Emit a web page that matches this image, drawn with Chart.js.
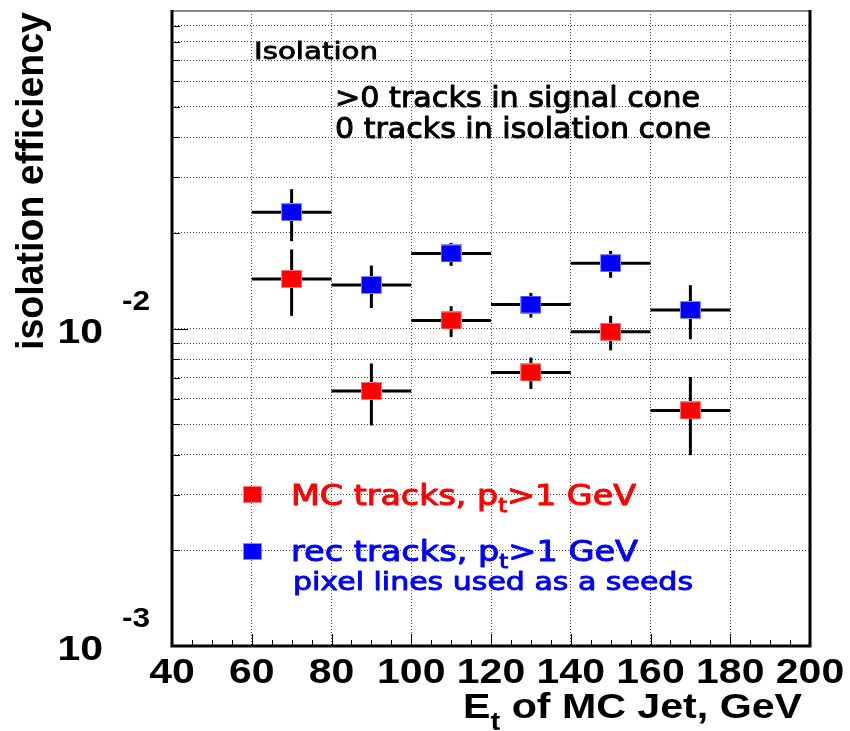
<!DOCTYPE html>
<html>
<head>
<meta charset="utf-8">
<script src="https://cdn.jsdelivr.net/npm/chart.js@4.4.1/dist/chart.umd.min.js"></script>
<style>
  html, body { margin: 0; padding: 0; background: #ffffff; }
  #wrap { width: 850px; height: 731px; }
</style>
</head>
<body>
<div id="wrap"><canvas id="effChart" width="850" height="731"></canvas></div>
<script>
// jet Et bins (centre) and half width, GeV
const etBins = [70, 90, 110, 130, 150, 170];
const binHalfWidth = 10;

// MC tracks, pt > 1 GeV
const mcEff  = [0.01433, 0.00636, 0.01060, 0.00727, 0.00976, 0.00552];
const mcHigh = [0.01774, 0.00776, 0.01176, 0.00810, 0.01096, 0.00704];
const mcLow  = [0.01096, 0.00495, 0.00939, 0.00645, 0.00853, 0.00399];

// rec tracks, pt > 1 GeV (pixel lines as seeds)
const recEff  = [0.02325, 0.01372, 0.01723, 0.01190, 0.01606, 0.01144];
const recHigh = [0.02747, 0.01579, 0.01861, 0.01295, 0.01756, 0.01369];
const recLow  = [0.01884, 0.01161, 0.01575, 0.01083, 0.01444, 0.00925];

// axis ticks
const xTicks = [40, 60, 80, 100, 120, 140, 160, 180, 200];
const yGrid = [0.001, 0.002, 0.003, 0.004, 0.005, 0.006, 0.007, 0.008, 0.009,
               0.01, 0.02, 0.03, 0.04, 0.05, 0.06, 0.07, 0.08, 0.09, 0.1];
const yLabels = [{ value: 0.01, exp: '-2' }, { value: 0.001, exp: '-3' }];

const BOLD = '"Liberation Sans", Arial, sans-serif';
const NOTE = '"DejaVu Sans", sans-serif';
const STRETCH = 1.17;

// little filled rectangle used as marker
function makeMarker(fill, edge, w, h) {
    const c = document.createElement('canvas');
    c.width = w; c.height = h;
    const g = c.getContext('2d');
    g.fillStyle = edge;
    g.fillRect(0, 0, w, h);
    g.fillStyle = fill;
    g.fillRect(1, 1, w - 2, h - 2);
    return c;
}
const redMarker = makeMarker('#ff0000', '#ff7a7a', 21, 18);
const blueMarker = makeMarker('#0000ff', '#8a8aff', 21, 18);

// draw a line of text made of runs (for sub/superscripts), stretched horizontally
function drawRuns(ctx, runs, x, y, opt) {
    opt = opt || {};
    ctx.save();
    let natural = 0;
    runs.forEach(r => { ctx.font = r.font; natural += ctx.measureText(r.text).width; });
    const sx = opt.width ? opt.width / natural : (opt.sx || 1);
    const total = natural * sx;
    ctx.translate(x, y);
    if (opt.rotate) ctx.rotate(opt.rotate);
    if (opt.align === 'center') ctx.translate(-total / 2, 0);
    else if (opt.align === 'right') ctx.translate(-total, 0);
    ctx.scale(sx, 1);
    ctx.fillStyle = opt.color || '#000';
    ctx.strokeStyle = opt.color || '#000';
    ctx.lineWidth = opt.weight || 0;
    ctx.lineJoin = 'round';
    ctx.textAlign = 'left';
    ctx.textBaseline = 'alphabetic';
    let cx = 0;
    runs.forEach(r => {
        ctx.font = r.font;
        ctx.fillText(r.text, cx, r.dy || 0);
        if (opt.weight) ctx.strokeText(r.text, cx, r.dy || 0);
        cx += ctx.measureText(r.text).width;
    });
    ctx.restore();
}

function line(ctx, x1, y1, x2, y2) {
    ctx.beginPath();
    ctx.moveTo(x1, y1);
    ctx.lineTo(x2, y2);
    ctx.stroke();
}

// error bars: bin width horizontally, stat error vertically
const errorBars = {
    id: 'errorBars',
    beforeDatasetsDraw(chart) {
        const ctx = chart.ctx;
        const xs = chart.scales.x, ys = chart.scales.y;
        const sets = [[mcEff, mcLow, mcHigh], [recEff, recLow, recHigh]];
        ctx.save();
        ctx.strokeStyle = '#000';
        ctx.lineWidth = 3;
        sets.forEach(([val, lo, hi]) => {
            etBins.forEach((et, i) => {
                const px = xs.getPixelForValue(et);
                const py = ys.getPixelForValue(val[i]);
                line(ctx, xs.getPixelForValue(et - binHalfWidth), py, xs.getPixelForValue(et + binHalfWidth), py);
                line(ctx, px, ys.getPixelForValue(hi[i]), px, ys.getPixelForValue(lo[i]));
            });
        });
        ctx.restore();
    }
};

// frame, inner tick marks, axis labels and the notes
const decorations = {
    id: 'decorations',
    afterDraw(chart) {
        const ctx = chart.ctx;
        const a = chart.chartArea;
        const xs = chart.scales.x, ys = chart.scales.y;
        ctx.save();

        // tick marks on the x axis, every 5 GeV
        ctx.strokeStyle = '#000';
        ctx.lineWidth = 1;
        for (let v = 40; v <= 200; v += 5) {
            const px = Math.round(xs.getPixelForValue(v)) + 0.5;
            const len = v % 20 === 0 ? 12 : 6;
            line(ctx, px, a.bottom, px, a.bottom - len);
        }
        // tick marks on the y axis
        yGrid.forEach(v => {
            const py = Math.round(ys.getPixelForValue(v)) + 0.5;
            const major = Math.abs(Math.log10(v) - Math.round(Math.log10(v))) < 1e-6;
            line(ctx, a.left, py, a.left + (major ? 16 : 8), py);
        });

        // frame
        ctx.strokeStyle = '#8c8c8c';
        ctx.lineWidth = 2;
        line(ctx, a.left, a.top, a.right, a.top);
        ctx.strokeStyle = '#000';
        ctx.lineWidth = 3;
        ctx.beginPath();
        ctx.moveTo(a.left, a.top - 1);
        ctx.lineTo(a.left, a.bottom);
        ctx.lineTo(a.right, a.bottom);
        ctx.lineTo(a.right, a.top - 1);
        ctx.stroke();

        // x tick labels
        xTicks.forEach(v => {
            drawRuns(ctx, [{ text: String(v), font: 'bold 35px ' + BOLD }],
                xs.getPixelForValue(v), 683, { sx: STRETCH, align: 'center' });
        });
        // y tick labels 10^n
        yLabels.forEach(l => {
            const py = ys.getPixelForValue(l.value);
            drawRuns(ctx, [{ text: '10', font: 'bold 35px ' + BOLD }], 103, py + 14, { sx: STRETCH, align: 'right' });
            drawRuns(ctx, [{ text: l.exp, font: 'bold 27px ' + BOLD }], 122, py - 19, { sx: STRETCH });
        });

        // axis titles
        drawRuns(ctx, [
            { text: 'E', font: 'bold 35px ' + BOLD },
            { text: 't', font: 'bold 25px ' + BOLD, dy: 12 },
            { text: ' of MC Jet, GeV', font: 'bold 35px ' + BOLD }
        ], 463, 718, { width: 339 });
        drawRuns(ctx, [{ text: 'isolation efficiency', font: 'bold 38px ' + BOLD }],
            43, 350, { width: 338, rotate: -Math.PI / 2 });

        // selection notes
        drawRuns(ctx, [{ text: 'Isolation', font: '23px ' + NOTE }], 254, 59, { width: 124, weight: 0.8 });
        drawRuns(ctx, [{ text: '>0 tracks in signal cone', font: '29px ' + NOTE }], 335, 107, { width: 365, weight: 1 });
        drawRuns(ctx, [{ text: '0 tracks in isolation cone', font: '29px ' + NOTE }], 335, 138, { width: 376, weight: 1 });

        // legend
        ctx.drawImage(makeMarker('#ff0000', '#ff7a7a', 19, 17), 243, 486);
        ctx.drawImage(makeMarker('#0000ff', '#8a8aff', 19, 17), 243, 543);
        drawRuns(ctx, [
            { text: 'MC tracks, p', font: '28px ' + NOTE },
            { text: 't', font: '19px ' + NOTE, dy: 7 },
            { text: '>1 GeV', font: '28px ' + NOTE }
        ], 291, 505, { width: 345, color: '#ff0000', weight: 1 });
        drawRuns(ctx, [
            { text: 'rec tracks, p', font: '28px ' + NOTE },
            { text: 't', font: '19px ' + NOTE, dy: 7 },
            { text: '>1 GeV', font: '28px ' + NOTE }
        ], 291, 561, { width: 347, color: '#0000ff', weight: 1 });
        drawRuns(ctx, [{ text: 'pixel lines used as a seeds', font: '24px ' + NOTE }],
            293, 590, { width: 400, color: '#0000ff', weight: 0.9 });

        ctx.restore();
    }
};

const gridStyle = { color: 'rgba(0,0,0,0.7)', lineWidth: 1, drawTicks: false };

new Chart(document.getElementById('effChart').getContext('2d'), {
    type: 'scatter',
    data: {
        datasets: [
            {
                label: 'MC tracks, pt>1 GeV',
                data: etBins.map((x, i) => ({ x: x, y: mcEff[i] })),
                pointStyle: redMarker,
                pointRadius: 10,
                showLine: false
            },
            {
                label: 'rec tracks, pt>1 GeV',
                data: etBins.map((x, i) => ({ x: x, y: recEff[i] })),
                pointStyle: blueMarker,
                pointRadius: 10,
                showLine: false
            }
        ]
    },
    options: {
        responsive: false,
        animation: false,
        layout: { padding: { left: 172, right: 40, top: 10, bottom: 85 } },
        plugins: { legend: { display: false }, tooltip: { enabled: false } },
        scales: {
            x: {
                type: 'linear',
                min: 40,
                max: 200,
                afterBuildTicks: scale => { scale.ticks = xTicks.map(v => ({ value: v })); },
                ticks: { display: false },
                grid: gridStyle,
                border: { display: false, dash: [1, 2] }
            },
            y: {
                type: 'logarithmic',
                min: 0.001,
                max: 0.1,
                afterBuildTicks: scale => { scale.ticks = yGrid.map(v => ({ value: v })); },
                ticks: { display: false },
                grid: gridStyle,
                border: { display: false, dash: [1, 2] }
            }
        }
    },
    plugins: [errorBars, decorations]
});
</script>
</body>
</html>
